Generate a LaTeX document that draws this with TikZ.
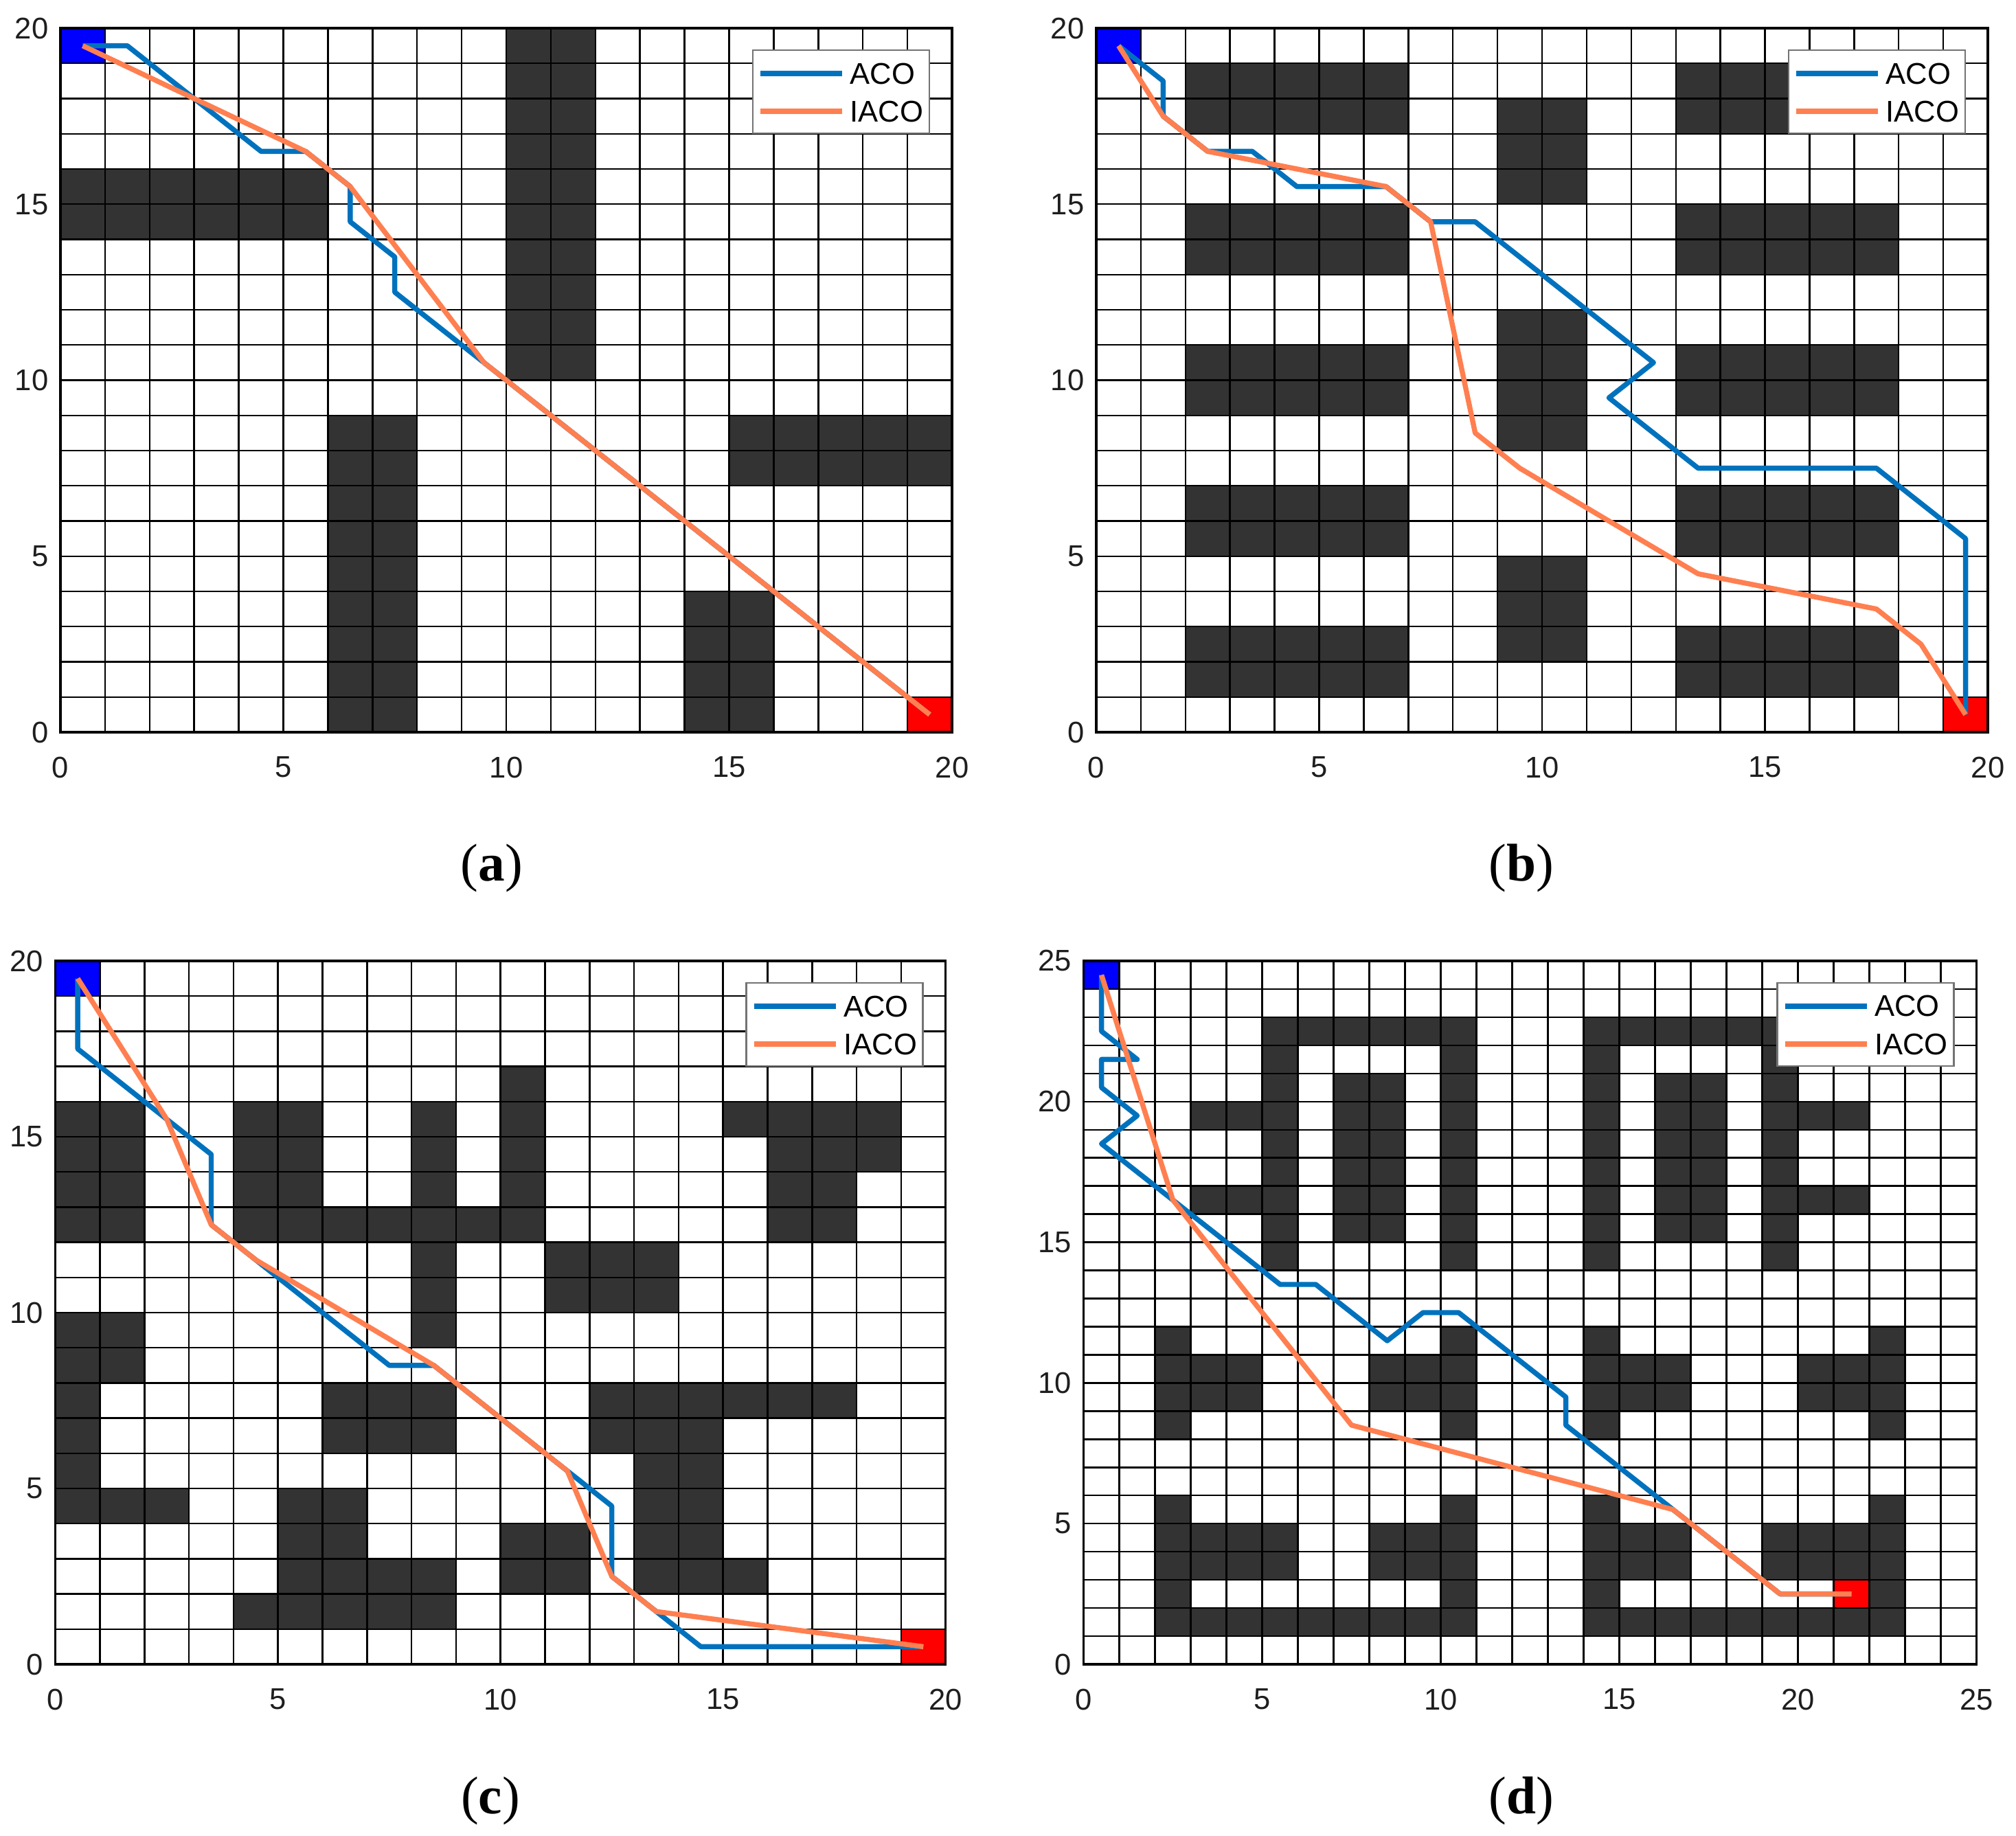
\documentclass[tikz,border=0pt]{standalone}
\usepackage{fontspec}
\setmainfont{Liberation Sans}
\newfontfamily\labfont{Liberation Serif}
\definecolor{obst}{RGB}{51,51,51}
\definecolor{acoc}{RGB}{0,114,189}
\definecolor{iacoc}{RGB}{255,127,80}
\definecolor{tickc}{RGB}{30,30,30}
\tikzset{
 obstacle/.style={fill=obst},
 startcell/.style={fill=blue},
 goalcell/.style={fill=red},
 gridline/.style={draw=black, line width=0.7pt},
 axisbox/.style={draw=black, line width=0.9pt},
 acopath/.style={draw=acoc, line width=2.1pt, line join=round},
 iacopath/.style={draw=iacoc, line width=2.1pt, line join=round},
 legbox/.style={draw=black!55, fill=white, line width=0.7pt},
 legtext/.style={font=\fontsize{12.4}{14}\selectfont, inner sep=0pt, anchor=west},
 ticklab/.style={font=\fontsize{12.4}{14}\selectfont, text=tickc, inner sep=0pt},
 sublab/.style={font=\labfont\fontsize{22}{26}\selectfont, inner sep=0pt, anchor=base},
}
\newcommand\mylegend[2]{%
  \draw[legbox] ([xshift=-2.90cm,yshift=-0.32cm]#1) rectangle ([xshift=-0.33cm,yshift=-1.53cm]#1);
  \coordinate (#2a1) at ([xshift=-2.79cm,yshift=-0.66cm]#1);
  \coordinate (#2a2) at ([xshift=-1.60cm,yshift=-0.66cm]#1);
  \coordinate (#2i1) at ([xshift=-2.79cm,yshift=-1.21cm]#1);
  \coordinate (#2i2) at ([xshift=-1.60cm,yshift=-1.21cm]#1);
  \draw[acopath, line cap=butt] (#2a1) -- (#2a2);
  \draw[iacopath, line cap=butt] (#2i1) -- (#2i2);
  \node[legtext] (#2at) at ([xshift=-1.49cm,yshift=-0.66cm]#1) {ACO};
  \node[legtext] (#2it) at ([xshift=-1.49cm,yshift=-1.21cm]#1) {IACO};
}
\begin{document}
\begin{tikzpicture}
\useasboundingbox (0,0) rectangle (29.35cm,-26.73cm);
\fill[white] (0,0) rectangle (29.35cm,-26.73cm);

% ---------------- panel (a)
\begin{scope}[shift={(0.88cm,-10.66cm)}, x=0.649cm, y=0.5125cm]
  \foreach \a/\b/\c/\d in {0/14/6/16, 10/10/12/20, 6/0/8/9, 15/7/20/9, 14/0/16/4}
    \fill[obstacle] (\a,\b) rectangle (\c,\d);
  \fill[startcell] (0,19) rectangle (1,20);
  \fill[goalcell] (19,0) rectangle (20,1);
  \draw[gridline, step=1] (0,0) grid (20,20);
  \draw[axisbox] (0,0) rectangle (20,20);
  \draw[acopath] (0.5,19.5) -- (1.5,19.5) -- (4.5,16.5) -- (5.5,16.5) -- (6.5,15.5) -- (6.5,14.5)
     -- (7.5,13.5) -- (7.5,12.5) -- (9.5,10.5) -- (19.5,0.5);
  \draw[iacopath] (0.5,19.5) -- (5.5,16.5) -- (6.5,15.5) -- (9.5,10.5) -- (19.5,0.5);
  \coordinate (A) at (20,20);
  \mylegend{A}{la}
  \foreach \t in {0,5,...,20} {
    \node[ticklab, anchor=east] (ay\t) at ([xshift=-0.17cm]0,\t) {\t};
    \node[ticklab] (ax\t) at ([yshift=-0.51cm]\t,0) {\t};
  }
\end{scope}
\node[sublab] (capa) at (7.16cm,-12.82cm) {(\textbf{a})};

% ---------------- panel (b)
\begin{scope}[shift={(15.96cm,-10.66cm)}, x=0.649cm, y=0.5125cm]
  \foreach \a/\b/\c/\d in {2/17/7/19, 13/17/18/19, 9/15/11/18, 2/13/7/15, 13/13/18/15, 9/8/11/12,
      2/9/7/11, 13/9/18/11, 2/5/7/7, 13/5/18/7, 9/2/11/5, 2/1/7/3, 13/1/18/3}
    \fill[obstacle] (\a,\b) rectangle (\c,\d);
  \fill[startcell] (0,19) rectangle (1,20);
  \fill[goalcell] (19,0) rectangle (20,1);
  \draw[gridline, step=1] (0,0) grid (20,20);
  \draw[axisbox] (0,0) rectangle (20,20);
  \draw[acopath] (0.5,19.5) -- (1.5,18.5) -- (1.5,17.5) -- (2.5,16.5) -- (3.5,16.5) -- (4.5,15.5)
     -- (6.5,15.5) -- (7.5,14.5) -- (8.5,14.5) -- (12.5,10.5) -- (11.5,9.5) -- (13.5,7.5)
     -- (17.5,7.5) -- (19.5,5.5) -- (19.5,0.5);
  \draw[iacopath] (0.5,19.5) -- (1.5,17.5) -- (2.5,16.5) -- (6.5,15.5) -- (7.5,14.5) -- (8.5,8.5)
     -- (9.5,7.5) -- (13.5,4.5) -- (17.5,3.5) -- (18.5,2.5) -- (19.5,0.5);
  \coordinate (B) at (20,20);
  \mylegend{B}{lb}
  \foreach \t in {0,5,...,20} {
    \node[ticklab, anchor=east] (by\t) at ([xshift=-0.17cm]0,\t) {\t};
    \node[ticklab] (bx\t) at ([yshift=-0.51cm]\t,0) {\t};
  }
\end{scope}
\node[sublab] (capb) at (22.15cm,-12.82cm) {(\textbf{b})};

% ---------------- panel (c)
\begin{scope}[shift={(0.807cm,-24.23cm)}, x=0.648cm, y=0.512cm]
  \foreach \a/\b/\c/\d in {0/12/2/16, 4/12/6/16, 6/12/11/13, 8/9/9/16, 10/12/11/17, 11/10/14/12,
      15/15/19/16, 16/14/19/15, 16/12/18/14, 0/8/2/10, 0/5/1/8, 0/4/3/5, 6/6/9/8, 12/7/18/8,
      12/6/15/7, 13/2/15/6, 15/2/16/3, 10/2/12/4, 5/1/7/5, 7/1/9/3, 4/1/5/2}
    \fill[obstacle] (\a,\b) rectangle (\c,\d);
  \fill[startcell] (0,19) rectangle (1,20);
  \fill[goalcell] (19,0) rectangle (20,1);
  \draw[gridline, step=1] (0,0) grid (20,20);
  \draw[axisbox] (0,0) rectangle (20,20);
  \draw[acopath] (0.5,19.5) -- (0.5,17.5) -- (3.5,14.5) -- (3.5,12.5) -- (4.5,11.5) -- (7.5,8.5)
     -- (8.5,8.5) -- (11.5,5.5) -- (12.5,4.5) -- (12.5,2.5) -- (13.5,1.5) -- (14.5,0.5) -- (19.5,0.5);
  \draw[iacopath] (0.5,19.5) -- (2.5,15.5) -- (3.5,12.5) -- (4.5,11.5) -- (8.5,8.5) -- (11.5,5.5)
     -- (12.5,2.5) -- (13.5,1.5) -- (19.5,0.5);
  \coordinate (C) at (20,20);
  \mylegend{C}{lc}
  \foreach \t in {0,5,...,20} {
    \node[ticklab, anchor=east] (cy\t) at ([xshift=-0.17cm]0,\t) {\t};
    \node[ticklab] (cx\t) at ([yshift=-0.51cm]\t,0) {\t};
  }
\end{scope}
\node[sublab] (capc) at (7.14cm,-26.40cm) {(\textbf{c})};

% ---------------- panel (d)
\begin{scope}[shift={(15.776cm,-24.23cm)}, x=0.52cm, y=0.4096cm]
  \foreach \a/\b/\c/\d in {5/22/11/23, 5/14/6/23, 10/14/11/23, 7/15/9/21, 3/19/5/20, 3/16/5/17,
      14/22/20/23, 14/14/15/23, 19/14/20/23, 16/15/18/21, 20/19/22/20, 20/16/22/17,
      2/8/3/12, 3/9/5/11, 8/9/10/11, 10/8/11/12, 14/8/15/12, 15/9/17/11, 20/9/22/11, 22/8/23/12,
      2/1/3/6, 3/3/6/5, 8/3/10/5, 10/1/11/6, 2/1/11/2, 14/1/15/6, 15/3/17/5, 19/3/22/5,
      22/1/23/6, 14/1/23/2}
    \fill[obstacle] (\a,\b) rectangle (\c,\d);
  \fill[startcell] (0,24) rectangle (1,25);
  \fill[goalcell] (21,2) rectangle (22,3);
  \draw[gridline, step=1] (0,0) grid (25,25);
  \draw[axisbox] (0,0) rectangle (25,25);
  \draw[acopath] (0.5,24.5) -- (0.5,22.5) -- (1.5,21.5) -- (0.5,21.5) -- (0.5,20.5) -- (1.5,19.5)
     -- (0.5,18.5) -- (5.5,13.5) -- (6.5,13.5) -- (8.5,11.5) -- (9.5,12.5) -- (10.5,12.5)
     -- (13.5,9.5) -- (13.5,8.5) -- (16.5,5.5) -- (19.5,2.5) -- (21.5,2.5);
  \draw[iacopath] (0.5,24.5) -- (2.5,16.5) -- (7.5,8.5) -- (16.5,5.5) -- (19.5,2.5) -- (21.5,2.5);
  \coordinate (D) at (25,25);
  \mylegend{D}{ld}
  \foreach \t in {0,5,...,25} {
    \node[ticklab, anchor=east] (dy\t) at ([xshift=-0.17cm]0,\t) {\t};
    \node[ticklab] (dx\t) at ([yshift=-0.51cm]\t,0) {\t};
  }
\end{scope}
\node[sublab] (capd) at (22.15cm,-26.40cm) {(\textbf{d})};
\end{tikzpicture}
\end{document}
